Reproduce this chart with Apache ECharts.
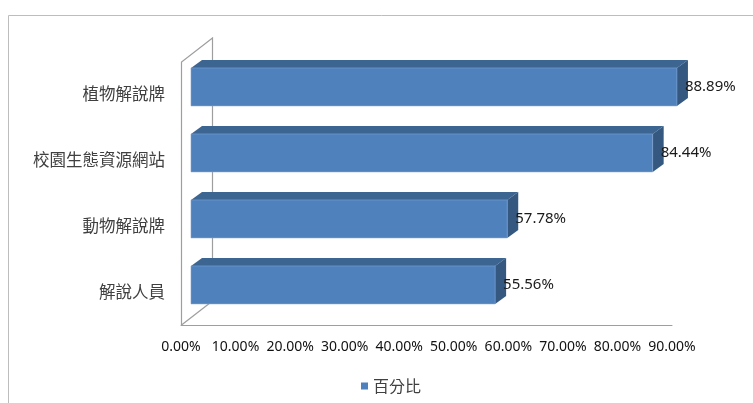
<!DOCTYPE html>
<html>
<head>
<meta charset="utf-8">
<script src="https://cdn.jsdelivr.net/npm/echarts@6/dist/echarts.min.js"></script>
<style>html,body{margin:0;padding:0;background:#fff;}#c{width:753px;height:403px;}</style>
</head>
<body>
<div id="c"></div>
<script>
const categories = ['解說人員', '動物解說牌', '校園生態資源網站', '植物解說牌'];
const values = [0.5556, 0.5778, 0.8444, 0.8889];
const seriesName = '百分比';
const xTicks = [0, 0.1, 0.2, 0.3, 0.4, 0.5, 0.6, 0.7, 0.8, 0.9];

const chart = echarts.init(document.getElementById('c'), null, {renderer: 'canvas'});
const FRONT = '#4F81BD', TOP = '#3D6591', SIDE = '#34587F';
const DX = 11, DY = -8, WX = 31, WY = -24;
const fmt = v => (v * 100).toFixed(2) + '%';

chart.setOption({
  animation: false,
  graphic: [{
    type: 'rect', shape: {x: 8.5, y: 15.5, width: 800, height: 500},
    style: {fill: null, stroke: '#BDBDBD', lineWidth: 1}, silent: true, z: 0
  }],
  legend: {
    data: [{name: seriesName, icon: 'rect'}],
    left: 356, top: 373, itemWidth: 7, itemHeight: 7, itemGap: 5,
    textStyle: {fontFamily: 'Noto Sans CJK TC', fontSize: 16, color: '#404040'}
  },
  grid: {left: 181, right: 81, top: 61, bottom: 78},
  xAxis: {
    type: 'value', min: 0, max: 0.9, interval: 0.1,
    axisLine: {show: true, lineStyle: {color: '#9E9E9E', width: 1}},
    axisTick: {show: false}, splitLine: {show: false},
    axisLabel: {formatter: fmt, margin: 15, fontFamily: 'Noto Sans', fontSize: 14, color: '#111'}
  },
  yAxis: {
    type: 'category', data: categories,
    axisLine: {show: false}, axisTick: {show: false},
    axisLabel: {margin: 16, fontFamily: 'Noto Sans CJK TC', fontSize: 16.5, color: '#404040'}
  },
  series: [{
    type: 'custom', name: 'walls', silent: true, z: 1,
    data: [[0, 0]],
    renderItem: function (params, api) {
      const cs = params.coordSys;
      const x = cs.x, y = cs.y, h = cs.height;
      const st = {stroke: '#9E9E9E', lineWidth: 1.2, fill: null};
      return {type: 'group', children: [
        {type: 'polyline', shape: {points: [[x + 0.5, y + h], [x + 0.5, y + 1], [x + WX + 0.5, y + WY + 1], [x + WX + 0.5, y + h + WY]]}, style: st},
        {type: 'line', shape: {x1: x + 0.5, y1: y + h, x2: x + WX + 0.5, y2: y + h + WY}, style: st}
      ]};
    }
  }, {
    type: 'custom', name: seriesName, z: 2,
    itemStyle: {color: FRONT},
    data: values.map((v, i) => [v, i]),
    renderItem: function (params, api) {
      const c0 = api.coord([0, api.value(1)]);
      const c1 = api.coord([api.value(0), api.value(1)]);
      const band = api.size([0, 1])[1];
      const x0 = c0[0] + 10, x1 = c1[0] + 11;
      const yT = c0[1] - 0.395 * band, yB = c0[1] + 0.18 * band;
      return {type: 'group', children: [
        {type: 'polygon', shape: {points: [[x0, yT], [x0 + DX, yT + DY], [x1 + DX, yT + DY], [x1, yT]]}, style: {fill: TOP}},
        {type: 'polygon', shape: {points: [[x1, yT], [x1 + DX, yT + DY], [x1 + DX, yB + DY], [x1, yB]]}, style: {fill: SIDE}},
        {type: 'rect', shape: {x: x0, y: yT, width: x1 - x0, height: yB - yT}, style: {fill: FRONT, stroke: '#7FA3D1', lineWidth: 0.6}},
        {type: 'text', x: x1 + 8, y: (yT + yB) / 2, style: {text: fmt(api.value(0)), fontFamily: 'Noto Sans', fontSize: 15, fill: '#1a1a1a', verticalAlign: 'middle', align: 'left'}}
      ]};
    }
  }]
});
</script>
</body>
</html>
